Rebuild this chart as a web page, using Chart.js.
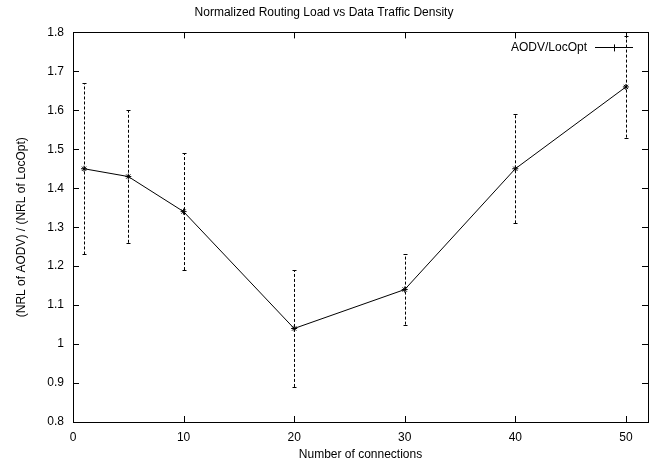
<!DOCTYPE html>
<html>
<head>
<meta charset="utf-8">
<script src="https://cdn.jsdelivr.net/npm/chart.js@4.4.0/dist/chart.umd.min.js"></script>
<style>
  html, body { margin: 0; padding: 0; background: #fff; }
  #wrap { width: 657px; height: 464px; }
</style>
</head>
<body>
<div id="wrap"><canvas id="cnv" width="657" height="464"></canvas></div>
<script>
"use strict";

// values
const connections = [1, 5, 10, 20, 30, 40, 50];
const nrlRatio    = [1.45, 1.43, 1.34, 1.04, 1.14, 1.45, 1.66];
const errLow      = [1.23, 1.26, 1.19, 0.89, 1.05, 1.31, 1.53];
const errHigh     = [1.67, 1.60, 1.49, 1.19, 1.23, 1.59, 1.79];
const seriesLabel = "AODV/LocOpt";

const FONT = "'Liberation Sans', Arial, Helvetica, sans-serif";

// gnuplot style: frame all around + inward ticks on every side
const frameTicks = {
   id: "frameTicks",
   afterDraw(chart) {
      const ctx = chart.ctx, a = chart.chartArea;
      const xs = chart.scales.x, ys = chart.scales.y;
      const len = 6;
      ctx.save();
      ctx.strokeStyle = "#000";
      ctx.lineWidth = 1;
      ctx.beginPath();
      xs.ticks.forEach(t => {
         const px = Math.round(xs.getPixelForValue(t.value)) + 0.5;
         ctx.moveTo(px, a.bottom); ctx.lineTo(px, a.bottom - len);
         ctx.moveTo(px, a.top);    ctx.lineTo(px, a.top + len);
      });
      ys.ticks.forEach(t => {
         const py = Math.round(ys.getPixelForValue(t.value)) + 0.5;
         ctx.moveTo(a.left, py);  ctx.lineTo(a.left + len, py);
         ctx.moveTo(a.right, py); ctx.lineTo(a.right - len, py);
      });
      ctx.stroke();
      ctx.strokeRect(Math.round(a.left) + 0.5, Math.round(a.top) + 0.5,
                     Math.round(a.right - a.left), Math.round(a.bottom - a.top));
      ctx.restore();
   }
};

// dashed error bars with small caps
const errorBars = {
   id: "errorBars",
   beforeDatasetsDraw(chart) {
      const ctx = chart.ctx;
      const xs = chart.scales.x, ys = chart.scales.y;
      ctx.save();
      ctx.strokeStyle = "#000";
      ctx.lineWidth = 1;
      connections.forEach((c, i) => {
         const px = Math.round(xs.getPixelForValue(c)) + 0.5;
         const yl = ys.getPixelForValue(errLow[i]);
         const yh = ys.getPixelForValue(errHigh[i]);
         ctx.setLineDash([3, 2]);
         ctx.beginPath();
         ctx.moveTo(px, yl); ctx.lineTo(px, yh);
         ctx.stroke();
         ctx.setLineDash([]);
         ctx.beginPath();
         ctx.moveTo(px - 2, Math.round(yl) + 0.5); ctx.lineTo(px + 2, Math.round(yl) + 0.5);
         ctx.moveTo(px - 2, Math.round(yh) + 0.5); ctx.lineTo(px + 2, Math.round(yh) + 0.5);
         ctx.stroke();
      });
      ctx.restore();
   }
};

// key in the top right corner, gnuplot-like
const keyBox = {
   id: "keyBox",
   afterDraw(chart) {
      const ctx = chart.ctx, a = chart.chartArea;
      const y = a.top + 15;
      const x1 = a.right - 53, x2 = a.right - 15;
      ctx.save();
      ctx.fillStyle = "#000";
      ctx.font = "12px " + FONT;
      ctx.textAlign = "right";
      ctx.textBaseline = "middle";
      ctx.fillText(seriesLabel, x1 - 8, y);
      ctx.strokeStyle = "#000";
      ctx.lineWidth = 1;
      ctx.beginPath();
      ctx.moveTo(x1, Math.round(y) + 0.5); ctx.lineTo(x2, Math.round(y) + 0.5);
      const mx = Math.round((x1 + x2) / 2) + 0.5;
      ctx.moveTo(mx, y - 3); ctx.lineTo(mx, y + 4);
      ctx.stroke();
      ctx.restore();
   }
};

Chart.defaults.font.family = FONT;
Chart.defaults.font.size = 12;
Chart.defaults.color = "#000";

new Chart(document.getElementById("cnv"), {
   type: "scatter",
   data: {
      datasets: [{
         label: seriesLabel,
         data: connections.map((c, i) => ({ x: c, y: nrlRatio[i] })),
         showLine: true,
         borderColor: "#000",
         borderWidth: 1,
         pointStyle: "star",
         pointRadius: 3,
         pointBorderColor: "#000",
         pointBorderWidth: 1,
         backgroundColor: "#000",
         clip: false
      }]
   },
   options: {
      responsive: false,
      animation: false,
      layout: { padding: { left: 0, right: 9, top: 0, bottom: 0 } },
      plugins: {
         legend: { display: false },
         tooltip: { enabled: false },
         title: {
            display: true,
            text: "Normalized Routing Load vs Data Traffic Density",
            font: { size: 12, weight: "normal" },
            color: "#000",
            padding: { top: 5, bottom: 13 }
         }
      },
      scales: {
         x: {
            type: "linear",
            min: 0, max: 52,
            grid: { display: false, drawTicks: false },
            border: { display: false },
            ticks: { stepSize: 10, includeBounds: false, padding: 8, maxRotation: 0 },
            title: { display: true, text: "Number of connections", padding: { top: 0, bottom: 2 } },
            afterFit(scale) { scale.height = 42; }
         },
         y: {
            type: "linear",
            min: 0.8, max: 1.8,
            grid: { display: false, drawTicks: false },
            border: { display: false },
            ticks: { stepSize: 0.1, padding: 9, callback: v => String(+v.toFixed(2)) },
            title: { display: true, text: "(NRL of AODV) / (NRL of LocOpt)", padding: { top: 14, bottom: 0 } },
            afterFit(scale) { scale.width = 73; }
         }
      }
   },
   plugins: [errorBars, frameTicks, keyBox]
});
</script>
</body>
</html>
